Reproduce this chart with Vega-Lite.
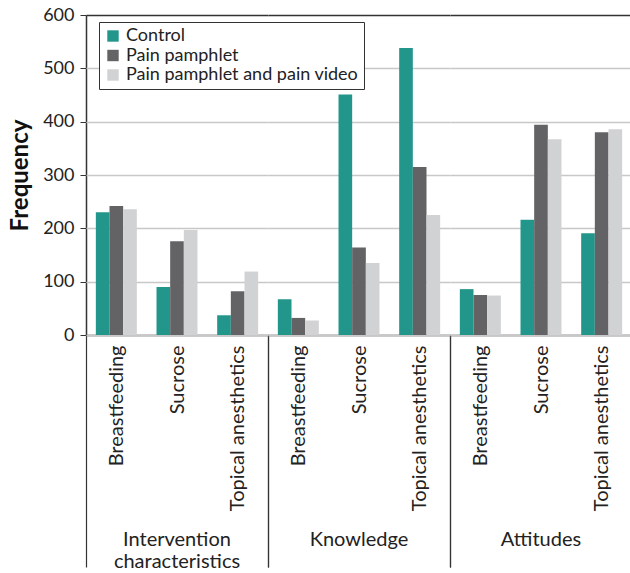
{
  "$schema": "https://vega.github.io/schema/vega-lite/v6.json",
  "padding": {"left": 8, "top": 6, "right": 0, "bottom": 0},
  "background": "white",
  "data": {"values": [
    {"group": "Intervention characteristics", "item": "Breastfeeding", "series": "Control", "value": 230},
    {"group": "Intervention characteristics", "item": "Breastfeeding", "series": "Pain pamphlet", "value": 242},
    {"group": "Intervention characteristics", "item": "Breastfeeding", "series": "Pain pamphlet and pain video", "value": 236},
    {"group": "Intervention characteristics", "item": "Sucrose", "series": "Control", "value": 90},
    {"group": "Intervention characteristics", "item": "Sucrose", "series": "Pain pamphlet", "value": 176},
    {"group": "Intervention characteristics", "item": "Sucrose", "series": "Pain pamphlet and pain video", "value": 197},
    {"group": "Intervention characteristics", "item": "Topical anesthetics", "series": "Control", "value": 37},
    {"group": "Intervention characteristics", "item": "Topical anesthetics", "series": "Pain pamphlet", "value": 82},
    {"group": "Intervention characteristics", "item": "Topical anesthetics", "series": "Pain pamphlet and pain video", "value": 119},
    {"group": "Knowledge", "item": "Breastfeeding", "series": "Control", "value": 67},
    {"group": "Knowledge", "item": "Breastfeeding", "series": "Pain pamphlet", "value": 32},
    {"group": "Knowledge", "item": "Breastfeeding", "series": "Pain pamphlet and pain video", "value": 27},
    {"group": "Knowledge", "item": "Sucrose", "series": "Control", "value": 451},
    {"group": "Knowledge", "item": "Sucrose", "series": "Pain pamphlet", "value": 164},
    {"group": "Knowledge", "item": "Sucrose", "series": "Pain pamphlet and pain video", "value": 135},
    {"group": "Knowledge", "item": "Topical anesthetics", "series": "Control", "value": 538},
    {"group": "Knowledge", "item": "Topical anesthetics", "series": "Pain pamphlet", "value": 315},
    {"group": "Knowledge", "item": "Topical anesthetics", "series": "Pain pamphlet and pain video", "value": 225},
    {"group": "Attitudes", "item": "Breastfeeding", "series": "Control", "value": 86},
    {"group": "Attitudes", "item": "Breastfeeding", "series": "Pain pamphlet", "value": 75},
    {"group": "Attitudes", "item": "Breastfeeding", "series": "Pain pamphlet and pain video", "value": 74},
    {"group": "Attitudes", "item": "Sucrose", "series": "Control", "value": 216},
    {"group": "Attitudes", "item": "Sucrose", "series": "Pain pamphlet", "value": 394},
    {"group": "Attitudes", "item": "Sucrose", "series": "Pain pamphlet and pain video", "value": 367},
    {"group": "Attitudes", "item": "Topical anesthetics", "series": "Control", "value": 191},
    {"group": "Attitudes", "item": "Topical anesthetics", "series": "Pain pamphlet", "value": 380},
    {"group": "Attitudes", "item": "Topical anesthetics", "series": "Pain pamphlet and pain video", "value": 386}
  ]},
  "facet": {
    "column": {
      "field": "group", "type": "nominal",
      "sort": ["Intervention characteristics", "Knowledge", "Attitudes"],
      "title": null,
      "header": {
        "labelOrient": "bottom",
        "labelFont": "Lato",
        "labelFontSize": 20,
        "labelColor": "#222",
        "labelPadding": -38,
        "labelLineHeight": 22,
        "labelExpr": "datum.value == 'Intervention characteristics' ? ['Intervention', 'characteristics'] : datum.value"
      }
    }
  },
  "spacing": 0,
  "spec": {
    "width": 182,
    "height": 320,
    "mark": {"type": "bar"},
    "encoding": {
      "x": {
        "field": "item", "type": "nominal",
        "sort": ["Breastfeeding", "Sucrose", "Topical anesthetics"],
        "scale": {"paddingInner": 0, "paddingOuter": 0},
        "axis": {
          "title": null,
          "labelAngle": -90,
          "labelAlign": "right",
          "labelBaseline": "middle",
          "labelFont": "Lato",
          "labelFontSize": 20,
          "labelColor": "#222",
          "labelPadding": -222,
          "tickBand": "extent",
          "tickSize": 232,
          "tickWidth": 1.2,
          "tickColor": {"condition": {"test": "datum.value !== 'Breastfeeding' && datum.value !== 'Sucrose'", "value": "#333"}, "value": "transparent"},
          "domainColor": "#333",
          "domainWidth": 1.5
        }
      },
      "xOffset": {
        "field": "series", "type": "nominal",
        "sort": ["Control", "Pain pamphlet", "Pain pamphlet and pain video"],
        "scale": {"paddingInner": 0, "paddingOuter": 0.72}
      },
      "y": {
        "field": "value", "type": "quantitative",
        "scale": {"domain": [0, 600], "nice": false},
        "axis": {
          "title": "Frequency",
          "titleFont": "Lato",
          "titleFontSize": 24,
          "titleFontWeight": "bold",
          "titleColor": "#111",
          "titlePadding": 10,
          "values": [0, 100, 200, 300, 400, 500, 600],
          "labelFont": "Lato",
          "labelFontSize": 18,
          "labelColor": "#222",
          "labelPadding": 6,
          "tickSize": 6,
          "tickColor": "#333",
          "domainColor": "#333",
          "domainWidth": 1.5,
          "gridColor": {"condition": {"test": "datum.value === 600", "value": "#333"}, "value": "#c8c8c8"},
          "gridWidth": 1.5
        }
      },
      "color": {
        "field": "series", "type": "nominal",
        "sort": ["Control", "Pain pamphlet", "Pain pamphlet and pain video"],
        "scale": {"domain": ["Control", "Pain pamphlet", "Pain pamphlet and pain video"], "range": ["#23968c", "#636365", "#d1d2d4"]},
        "legend": {
          "title": null,
          "orient": "none",
          "legendX": 13,
          "legendY": 7,
          "fillColor": "white",
          "strokeColor": "#333",
          "padding": 5,
          "symbolType": "square",
          "symbolSize": 130,
          "symbolStrokeWidth": 0,
          "symbolOpacity": 1,
          "labelFont": "Lato",
          "labelFontSize": 18,
          "labelColor": "#222",
          "labelOffset": 4,
          "labelLimit": 400,
          "rowPadding": 1.5
        }
      }
    }
  },
  "config": {
    "view": {"stroke": null},
    "axis": {"labelFont": "Lato"}
  }
}
